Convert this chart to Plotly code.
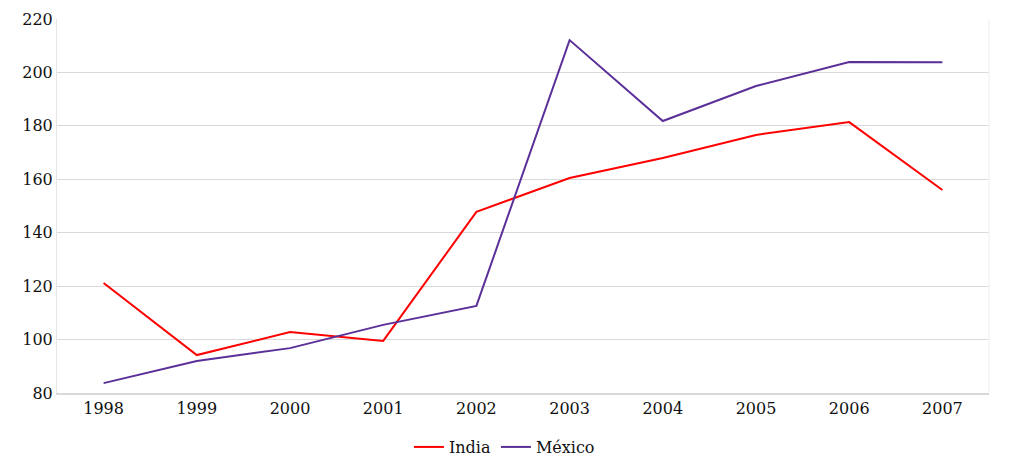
import plotly.graph_objects as go

years = ["1998", "1999", "2000", "2001", "2002", "2003", "2004", "2005", "2006", "2007"]
india = [121.2, 94.2, 102.8, 99.5, 147.8, 160.5, 168.0, 176.6, 181.4, 156.0]
mexico = [83.7, 92.0, 96.8, 105.5, 112.6, 212.1, 181.8, 194.9, 203.9, 203.8]
y_ticks = [80, 100, 120, 140, 160, 180, 200, 220]

FONT = "DejaVu Serif"

fig = go.Figure()
fig.add_trace(go.Scatter(x=years, y=india, mode="lines", name="India",
                         line=dict(color="#ff0000", width=2)))
fig.add_trace(go.Scatter(x=years, y=mexico, mode="lines", name="México",
                         line=dict(color="#5a2f98", width=2)))

fig.update_layout(
    width=1009, height=461,
    margin=dict(l=49, r=28, t=11, b=76, autoexpand=False),
    paper_bgcolor="white", plot_bgcolor="white",
    font=dict(family=FONT, size=16, color="#111111"),
    legend=dict(orientation="h", xref="container", x=0.492, xanchor="center",
                y=-0.099, yanchor="top",
                font=dict(family=FONT, size=16), itemwidth=30),
    xaxis=dict(type="category", range=[-0.5, 9.5], showgrid=False, automargin=False,
               showline=True, linecolor="#d9d9d9", linewidth=1.5,
               mirror=False, ticks="", tickfont=dict(family=FONT, size=16)),
    yaxis=dict(range=[80, 220], tickvals=y_ticks, showgrid=True, gridcolor="#d9d9d9",
               gridwidth=1, showline=True, linecolor="#e6e6e6", zeroline=False,
               automargin=False, ticks="", tickfont=dict(family=FONT, size=16)),
)
fig.add_shape(type="line", xref="paper", yref="paper", x0=1, x1=1, y0=0, y1=1,
              line=dict(color="#eeeeee", width=1))

fig.write_html("out.html")
